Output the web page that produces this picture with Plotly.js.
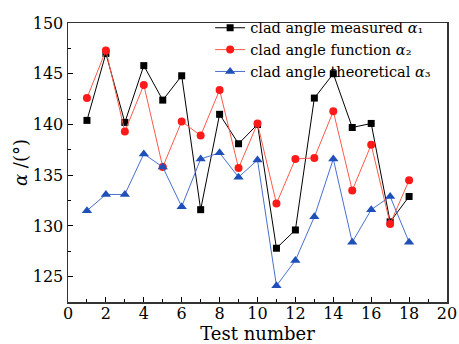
<!DOCTYPE html>
<html><head><meta charset="utf-8">
<script src="https://cdn.plot.ly/plotly-3.0.1.min.js"></script>
<style>html,body{margin:0;padding:0;background:#fff}#chart{width:459px;height:344px}</style>
</head><body><div id="chart"></div>
<script>
const testNumbers = [1,2,3,4,5,6,7,8,9,10,11,12,13,14,15,16,17,18];
const measured = [140.4,147.0,140.2,145.8,142.4,144.8,131.6,141.0,138.1,140.0,127.8,129.6,142.6,145.0,139.7,140.1,130.4,132.9];
const functionVals = [142.6,147.3,139.3,143.9,135.8,140.3,138.9,143.4,135.7,140.1,132.2,136.6,136.7,141.3,133.5,138.0,130.2,134.5];
const theoretical = [131.5,133.1,133.1,137.1,135.8,131.9,136.6,137.2,134.8,136.5,124.1,126.6,130.9,136.6,128.4,131.6,132.9,128.4];
const names = ['clad angle measured <i>α</i>₁','clad angle function <i>α</i>₂','clad angle theoretical <i>α</i>₃'];
const xTicks = [0,2,4,6,8,10,12,14,16,18,20];
const yTicks = [125,130,135,140,145,150];

const font = 'DejaVu Serif, Liberation Serif, serif';
const traces = [
  {x:testNumbers,y:measured,name:names[0],mode:'lines+markers',line:{color:'#000000',width:1},marker:{symbol:'square',size:7,color:'#000000'}},
  {x:testNumbers,y:functionVals,name:names[1],mode:'lines+markers',line:{color:'#ff5a4a',width:1},marker:{symbol:'circle',size:8,color:'#ff1a1a'}},
  {x:testNumbers,y:theoretical,name:names[2],mode:'lines+markers',line:{color:'#4a6fd0',width:1},marker:{symbol:'triangle-up',size:9,color:'#1f4fb8'}}
];
const layout = {
  width:459,height:344,
  margin:{l:68,r:12,t:20,b:42},
  paper_bgcolor:'#fff',plot_bgcolor:'#fff',
  font:{family:font,size:16,color:'#000'},
  showlegend:true,
  legend:{x:0.375,y:1.04,xanchor:'left',yanchor:'top',bgcolor:'rgba(0,0,0,0)',font:{family:font,size:14.5},tracegroupgap:0,itemwidth:30},
  xaxis:{range:[0,20],tickvals:xTicks,ticks:'inside',ticklen:5,tickcolor:'#000',showline:true,linecolor:'#333',linewidth:1.5,mirror:true,showgrid:false,zeroline:false,
    minor:{ticks:'inside',dtick:1,tick0:0,ticklen:3,tickcolor:'#000'},ticklabelstandoff:-4,
    title:{text:'Test number',font:{family:font,size:18},standoff:0},tickfont:{family:font,size:16}},
  yaxis:{range:[122.5,150],tickvals:yTicks,ticks:'inside',ticklen:5,tickcolor:'#000',showline:true,linecolor:'#333',linewidth:1.5,mirror:true,showgrid:false,zeroline:false,
    minor:{ticks:'inside',dtick:2.5,tick0:0,ticklen:3,tickcolor:'#000'},
    title:{text:'\u00a0\u00a0\u00a0\u00a0\u00a0\u00a0\u00a0\u00a0\u00a0\u00a0\u00a0\u00a0<i>α</i> /(°)',font:{family:font,size:18},standoff:0},tickfont:{family:font,size:16}}
};
Plotly.newPlot('chart',traces,layout,{displayModeBar:false,staticPlot:true});
</script></body></html>
